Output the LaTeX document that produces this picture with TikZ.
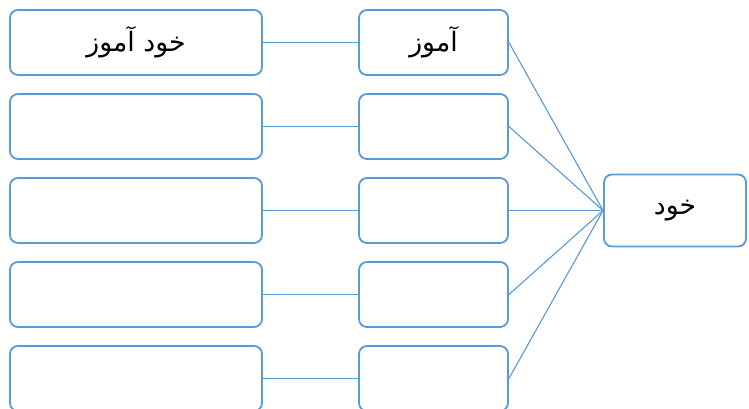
\documentclass[tikz,border=0pt]{standalone}
\usepackage{fontspec}
\usepackage{xcolor}
\usetikzlibrary{positioning}
\newfontfamily\arabicfont[Script=Arabic]{DejaVu Sans}
\TeXXeTstate=1
\definecolor{boxblue}{RGB}{91,155,213}

\begin{document}
\begin{tikzpicture}[
    x=0.025cm, y=-0.025cm,
    wordbox/.style={rectangle, draw=boxblue, line width=1.3pt, rounded corners=0.2cm, fill=white, align=center, font=\arabicfont\fontsize{19}{22}\selectfont},
    leftbox/.style={wordbox, minimum width=6.3cm, minimum height=1.625cm},
    midbox/.style={wordbox, minimum width=3.725cm, minimum height=1.625cm},
    link/.style={draw=boxblue, line width=0.8pt}
]
    \useasboundingbox (0,0) rectangle (749,408);
    \clip (0,0) rectangle (749,408);

    % Left column
    \node[leftbox] (l1) at (136, 42.5) {\beginR خود آموز\endR};
    \node[leftbox] (l2) at (136, 126.5) {};
    \node[leftbox] (l3) at (136, 210.5) {};
    \node[leftbox] (l4) at (136, 294.5) {};
    \node[leftbox] (l5) at (136, 378.5) {};

    % Middle column
    \node[midbox] (m1) at (433.5, 42.5) {\beginR آموز\endR};
    \node[midbox] (m2) at (433.5, 126.5) {};
    \node[midbox] (m3) at (433.5, 210.5) {};
    \node[midbox] (m4) at (433.5, 294.5) {};
    \node[midbox] (m5) at (433.5, 378.5) {};

    % Root word
    \node[wordbox, minimum width=3.55cm, minimum height=1.8cm] (root) at (675, 210.5) {\beginR خود\endR};

    % Left to middle
    \draw[link] (l1.east) -- (m1.west);
    \draw[link] (l2.east) -- (m2.west);
    \draw[link] (l3.east) -- (m3.west);
    \draw[link] (l4.east) -- (m4.west);
    \draw[link] (l5.east) -- (m5.west);

    % Middle to root
    \draw[link] (m1.east) -- (root.west);
    \draw[link] (m2.east) -- (root.west);
    \draw[link] (m3.east) -- (root.west);
    \draw[link] (m4.east) -- (root.west);
    \draw[link] (m5.east) -- (root.west);
\end{tikzpicture}
\end{document}
